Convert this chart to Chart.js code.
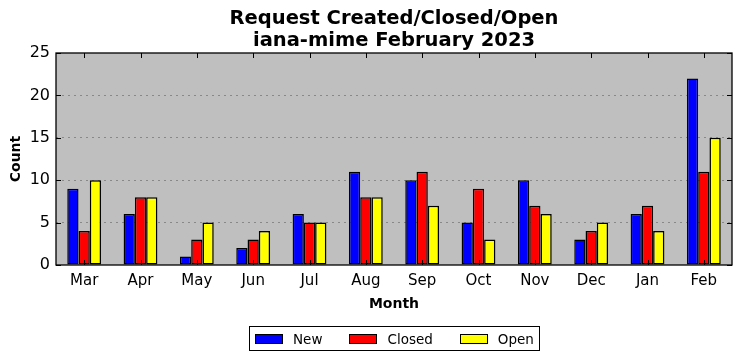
<!DOCTYPE html>
<html lang="en">
<head>
    <meta charset="UTF-8">
    <title>Request Created/Closed/Open</title>
    <script src="https://cdn.jsdelivr.net/npm/chart.js"></script>
    <style>
        body { margin: 0; background: #fff; font-family: 'DejaVu Sans', sans-serif; }
        .wrap { position: relative; width: 742px; height: 361px; }
        .legend {
            position: absolute; left: 249px; top: 326px; width: 284px; height: 23px;
            border: 1px solid #000; display: flex; align-items: center;
            font-size: 13.5px; color: #000; box-sizing: content-box; padding-left: 5px;
        }
        .item { display: flex; align-items: center; margin-right: 27px; }
        .item:last-child { margin-right: 0; }
        .sw { width: 26px; height: 8px; border: 1px solid #000; margin-right: 10px; }
    </style>
</head>
<body>
<div class="wrap">
    <canvas id="c" width="742" height="361"></canvas>
    <div class="legend" id="legend"></div>
</div>
<script>
    // data
    const months = ['Mar', 'Apr', 'May', 'Jun', 'Jul', 'Aug', 'Sep', 'Oct', 'Nov', 'Dec', 'Jan', 'Feb'];
    const newCounts    = [9, 6, 1, 2, 6, 11, 10, 5, 10, 3, 6, 22];
    const closedCounts = [4, 8, 3, 3, 5, 8, 11, 9, 7, 4, 7, 11];
    const openCounts   = [10, 8, 5, 4, 5, 8, 7, 3, 6, 5, 4, 15];
    const yTicks = [0, 5, 10, 15, 20, 25];

    const series = [
        { label: 'New', data: newCounts, color: '#0000ff' },
        { label: 'Closed', data: closedCounts, color: '#ff0000' },
        { label: 'Open', data: openCounts, color: '#ffff00' }
    ];

    // plot background, frame and inward tick marks (matplotlib classic look)
    const framePlugin = {
        id: 'frame',
        beforeDraw(chart) {
            const a = chart.chartArea, ctx = chart.ctx;
            ctx.save();
            ctx.fillStyle = '#bfbfbf';
            ctx.fillRect(a.left, a.top, a.right - a.left, a.bottom - a.top);
            ctx.restore();
        },
        afterDraw(chart) {
            const a = chart.chartArea, ctx = chart.ctx;
            const x = chart.scales.x, y = chart.scales.y;
            ctx.save();
            ctx.strokeStyle = '#000';
            ctx.lineWidth = 1;
            ctx.beginPath();
            months.forEach((m, i) => {
                const px = Math.round(x.getPixelForValue(i)) + 0.5;
                ctx.moveTo(px, a.bottom); ctx.lineTo(px, a.bottom - 5);
                ctx.moveTo(px, a.top); ctx.lineTo(px, a.top + 5);
            });
            yTicks.forEach(v => {
                const py = Math.round(y.getPixelForValue(v)) + 0.5;
                ctx.moveTo(a.left, py); ctx.lineTo(a.left + 5, py);
                ctx.moveTo(a.right, py); ctx.lineTo(a.right - 5, py);
            });
            ctx.stroke();
            ctx.lineWidth = 1.3;
            ctx.strokeRect(a.left, a.top, a.right - a.left, a.bottom - a.top);
            ctx.restore();
        }
    };

    new Chart(document.getElementById('c'), {
        type: 'bar',
        data: {
            labels: months,
            datasets: series.map(s => ({
                label: s.label,
                data: s.data,
                backgroundColor: s.color,
                borderColor: '#000',
                borderWidth: 1.5,
                borderSkipped: false,
                categoryPercentage: 0.6,
                barPercentage: 1.0
            }))
        },
        options: {
            responsive: false,
            animation: false,
            layout: { padding: { left: 0, right: 10, top: 0, bottom: 48 } },
            plugins: {
                legend: { display: false },
                tooltip: { enabled: false },
                title: {
                    display: true,
                    fullSize: false,
                    text: ['Request Created/Closed/Open', 'iana-mime February 2023'],
                    color: '#000',
                    font: { family: 'DejaVu Sans', size: 19.5, weight: 'bold', lineHeight: '22px' },
                    padding: { top: 8, bottom: 1 }
                }
            },
            scales: {
                x: {
                    grid: { display: false, drawTicks: false },
                    border: { display: false },
                    ticks: { color: '#000', font: { family: 'DejaVu Sans', size: 15 }, padding: 7 },
                    title: {
                        display: true, text: 'Month', color: '#000',
                        font: { family: 'DejaVu Sans', size: 14, weight: 'bold' },
                        padding: { top: 2, bottom: 0 }
                    },
                    afterFit(s) { s.height = 48; }
                },
                y: {
                    min: 0, max: 25,
                    afterBuildTicks(s) { s.ticks = yTicks.map(v => ({ value: v })); },
                    grid: {
                        color: ctx => (ctx.tick && (ctx.tick.value === 0 || ctx.tick.value === 25)) ? 'rgba(0,0,0,0)' : '#7a7a7a',
                        lineWidth: 0.8,
                        drawTicks: false
                    },
                    border: { display: false, dash: [2, 4] },
                    ticks: { color: '#000', font: { family: 'DejaVu Sans', size: 16 }, padding: 6 },
                    title: {
                        display: true, text: 'Count', color: '#000',
                        font: { family: 'DejaVu Sans', size: 14, weight: 'bold' },
                        padding: { top: 8, bottom: 4 }
                    },
                    afterFit(s) { s.width = 56; }
                }
            }
        },
        plugins: [framePlugin]
    });

    // legend box below the axis, like the reference
    const legend = document.getElementById('legend');
    series.forEach(s => {
        const item = document.createElement('div');
        item.className = 'item';
        item.innerHTML = '<span class="sw" style="background:' + s.color + '"></span>' + s.label;
        legend.appendChild(item);
    });
</script>
</body>
</html>
